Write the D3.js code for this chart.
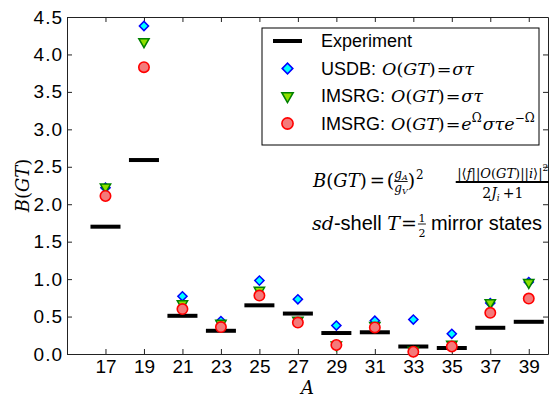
<!DOCTYPE html>
<html>
<head>
<meta charset="utf-8">
<script src="https://cdn.jsdelivr.net/npm/d3@7"></script>
<style>
  body { margin: 0; background: #fff; }
  svg { display: block; }
  text { white-space: pre; }
</style>
</head>
<body>
<svg id="chart" width="549" height="397"></svg>
<script>
// Gamow-Teller strengths of sd-shell T=1/2 mirror transitions
const massNumbers   = [17, 19, 21, 23, 25, 27, 29, 31, 33, 35, 37, 39];
const experiment    = [1.70, 2.59, 0.51, 0.31, 0.65, 0.54, 0.28, 0.29, 0.10, 0.08, 0.35, 0.43];
const usdb          = [2.22, 4.38, 0.77, 0.44, 0.98, 0.73, 0.38, 0.445, 0.46, 0.27, 0.68, 0.96];
const imsrgBare     = [2.23, 4.17, 0.67, 0.41, 0.85, 0.45, 0.12, 0.38, 0.05, 0.13, 0.685, 0.955];
const imsrgEvolved  = [2.11, 3.83, 0.60, 0.36, 0.78, 0.42, 0.12, 0.355, 0.03, 0.10, 0.55, 0.74];
const yTickValues   = [0, 0.5, 1.0, 1.5, 2.0, 2.5, 3.0, 3.5, 4.0, 4.5];
const xDomain = [15, 40];
const yDomain = [0, 4.5];

const plot = { left: 67, right: 548, top: 17, bottom: 354 };
const SANS = "'Liberation Sans', Arial, sans-serif";
const SERIF = "'DejaVu Serif', serif";

const svg = d3.select("#chart");
const x = d3.scaleLinear().domain(xDomain).range([plot.left, plot.right]);
const y = d3.scaleLinear().domain(yDomain).range([plot.bottom, plot.top]);

// ---- axes: inward ticks on all four sides ----
function styleAxis(g) {
  g.select(".domain").attr("stroke", "#222").attr("stroke-width", 1);
  g.selectAll(".tick line").attr("stroke", "#222").attr("stroke-width", 1);
  g.selectAll("text").attr("fill", "#000").style("font-family", SANS).style("font-size", "19px");
}
svg.append("g").attr("transform", `translate(0,${plot.bottom})`)
  .call(d3.axisBottom(x).tickValues(massNumbers).tickFormat(d3.format("d"))
    .tickSizeInner(-5).tickSizeOuter(0).tickPadding(6))
  .call(styleAxis);
svg.append("g").attr("transform", `translate(0,${plot.top})`)
  .call(d3.axisTop(x).tickValues(massNumbers).tickFormat("")
    .tickSizeInner(-5).tickSizeOuter(0))
  .call(styleAxis);
svg.append("g").attr("transform", `translate(${plot.left},0)`)
  .call(d3.axisLeft(y).tickValues(yTickValues).tickFormat(d3.format(".1f"))
    .tickSizeInner(-5).tickSizeOuter(0).tickPadding(4))
  .call(styleAxis)
  .call((g) => g.selectAll("text").style("letter-spacing", "1px"));
svg.append("g").attr("transform", `translate(${plot.right},0)`)
  .call(d3.axisRight(y).tickValues(yTickValues).tickFormat("")
    .tickSizeInner(-5).tickSizeOuter(0))
  .call(styleAxis);

// ---- small math typesetter: rows of text pieces and stacked fractions ----
function row(parent, parts) {
  const g = parent.append("g");
  let cx = 0;
  for (const p of parts) {
    if (p.num) {
      const n = row(g, p.num), d = row(g, p.den);
      const pad = p.pad == null ? 1 : p.pad;
      const w = Math.max(n.w, d.w) + 2 * pad;
      n.g.attr("transform", `translate(${cx + (w - n.w) / 2},${p.up})`);
      d.g.attr("transform", `translate(${cx + (w - d.w) / 2},${p.down})`);
      g.append("line").attr("x1", cx).attr("x2", cx + w)
        .attr("y1", p.bar).attr("y2", p.bar)
        .attr("stroke", "#000").attr("stroke-width", p.lw || 1);
      cx += w + (p.gap || 0);
    } else {
      cx += p.pre || 0;
      const t = g.append("text").attr("x", cx).attr("y", p.dy || 0).text(p.t)
        .attr("fill", "#000")
        .style("font-family", p.f === "s" ? SANS : SERIF)
        .style("font-style", p.f === "i" ? "italic" : "normal")
        .style("font-size", (p.size || 20) + "px");
      cx += t.node().getComputedTextLength() + (p.gap || 0);
    }
  }
  return { g, w: cx };
}
function place(parts, tx, ty) {
  const r = row(svg, parts);
  r.g.attr("transform", `translate(${tx},${ty})`);
  return r;
}

// ---- experiment bars ----
const halfBar = 0.78;
svg.append("g").selectAll("line").data(massNumbers).join("line")
  .attr("x1", (a) => x(a - halfBar)).attr("x2", (a) => x(a + halfBar))
  .attr("y1", (a, i) => y(experiment[i])).attr("y2", (a, i) => y(experiment[i]))
  .attr("stroke", "#000").attr("stroke-width", 4);

// ---- marker series ----
const diamondPath = d3.symbol(d3.symbolSquare, 42)();
const trianglePath = d3.symbol(d3.symbolTriangle, 46)();
const diamondStyle = { fill: "#00ffff", stroke: "#0000ff" };
const triangleStyle = { fill: "#8fe000", stroke: "#008000" };
const circleStyle = { fill: "#f47a7a", stroke: "#ff0000" };
[
  { values: usdb, path: diamondPath, rot: 45, style: diamondStyle },
  { values: imsrgBare, path: trianglePath, rot: 180, style: triangleStyle },
].forEach((s) => {
  svg.append("g").selectAll("path").data(massNumbers).join("path")
    .attr("d", s.path)
    .attr("transform", (a, i) => `translate(${x(a)},${y(s.values[i])}) rotate(${s.rot})`)
    .attr("fill", s.style.fill).attr("stroke", s.style.stroke).attr("stroke-width", 1.5);
});
svg.append("g").selectAll("circle").data(massNumbers).join("circle")
  .attr("cx", (a) => x(a)).attr("cy", (a, i) => y(imsrgEvolved[i])).attr("r", 5.2)
  .attr("fill", circleStyle.fill).attr("stroke", circleStyle.stroke).attr("stroke-width", 1.6);

// ---- legend ----
const legend = { x: 262, y: 28, w: 277, h: 117 };
svg.append("rect").attr("x", legend.x).attr("y", legend.y)
  .attr("width", legend.w).attr("height", legend.h)
  .attr("fill", "#fff").attr("stroke", "#000").attr("stroke-width", 1);
const rowsY = [41, 68.5, 96, 123.5];
const markX = 287.5, textX = 321;
svg.append("line").attr("x1", 273).attr("x2", 302).attr("y1", rowsY[0]).attr("y2", rowsY[0])
  .attr("stroke", "#000").attr("stroke-width", 4);
svg.append("path").attr("d", diamondPath)
  .attr("transform", `translate(${markX},${rowsY[1]}) rotate(45) scale(1.15)`)
  .attr("fill", diamondStyle.fill).attr("stroke", diamondStyle.stroke).attr("stroke-width", 1.4);
svg.append("path").attr("d", trianglePath)
  .attr("transform", `translate(${markX},${rowsY[2]}) rotate(180) scale(1.1)`)
  .attr("fill", triangleStyle.fill).attr("stroke", triangleStyle.stroke).attr("stroke-width", 1.4);
svg.append("circle").attr("cx", markX).attr("cy", rowsY[3]).attr("r", 5.6)
  .attr("fill", circleStyle.fill).attr("stroke", circleStyle.stroke).attr("stroke-width", 1.6);

const LS = 18, LM = 17.5;
const opGT = [
  { t: "O", f: "i", size: LM, pre: 1 },
  { t: "(", f: "r", size: LM },
  { t: "GT", f: "i", size: LM },
  { t: ")", f: "r", size: LM, gap: 1 },
  { t: "=", f: "r", size: LM, gap: 1 },
];
place([{ t: "Experiment", f: "s", size: LS }], textX, rowsY[0] + 6);
place([{ t: "USDB: ", f: "s", size: LS }, ...opGT, { t: "στ", f: "i", size: LM }], textX, rowsY[1] + 6);
place([{ t: "IMSRG: ", f: "s", size: LS }, ...opGT, { t: "στ", f: "i", size: LM }], textX, rowsY[2] + 6);
place([
  { t: "IMSRG: ", f: "s", size: LS }, ...opGT,
  { t: "e", f: "i", size: LM }, { t: "Ω", f: "r", size: 12, dy: -8, gap: 1 },
  { t: "στ", f: "i", size: LM },
  { t: "e", f: "i", size: LM }, { t: "−Ω", f: "r", size: 12, dy: -8 },
], textX, rowsY[3] + 6);

// ---- B(GT) definition ----
const NS = 13;
place([
  { t: "B", f: "i", size: 18 }, { t: "(", f: "r", size: 18 }, { t: "GT", f: "i", size: 18 },
  { t: ")", f: "r", size: 18, gap: 3 },
  { t: "=", f: "r", size: 18, gap: 2 },
  { t: "(", f: "r", size: 19 },
  { num: [{ t: "g", f: "i", size: 12 }, { t: "A", f: "i", size: 8, dy: 2 }],
    den: [{ t: "g", f: "i", size: 12 }, { t: "V", f: "i", size: 8, dy: 2 }],
    up: -9, down: 5, bar: -5.5, lw: 0.9, pad: 0 },
  { t: ")", f: "r", size: 19, gap: 1 },
  { t: "2", f: "r", size: 12, dy: -8, gap: 32 },
  { num: [
      { t: "|⟨", f: "r", size: NS }, { t: "f", f: "i", size: NS }, { t: "||", f: "r", size: NS },
      { t: "O", f: "i", size: NS }, { t: "(", f: "r", size: NS }, { t: "GT", f: "i", size: NS },
      { t: ")", f: "r", size: NS }, { t: "||", f: "r", size: NS }, { t: "i", f: "i", size: NS },
      { t: "⟩|", f: "r", size: NS }, { t: "2", f: "r", size: 9, dy: -7 } ],
    den: [
      { t: "2", f: "r", size: 14 }, { t: "J", f: "i", size: 14 }, { t: "i", f: "i", size: 9, dy: 3, gap: 3 },
      { t: "+1", f: "r", size: 14 } ],
    up: -9, down: 11, bar: -5, lw: 2, pad: 1.5 },
], 313, 187);

// ---- model space note ----
place([
  { t: "sd", f: "i", size: 19 }, { t: "-shell ", f: "s", size: 20 },
  { t: "T", f: "i", size: 19, gap: 1 }, { t: "=", f: "r", size: 19, gap: 1 },
  { num: [{ t: "1", f: "r", size: 11 }], den: [{ t: "2", f: "r", size: 11 }],
    up: -8, down: 7, bar: -6, lw: 0.9, pad: 0.5, gap: 5 },
  { t: "mirror states", f: "s", size: 20 },
], 312, 230);

// ---- axis titles ----
svg.append("text").attr("x", (plot.left + plot.right) / 2).attr("y", 394)
  .attr("text-anchor", "middle").text("A")
  .style("font-family", SERIF).style("font-style", "italic").style("font-size", "18px");
const yl = row(svg, [
  { t: "B", f: "i", size: 18 }, { t: "(", f: "r", size: 18 },
  { t: "GT", f: "i", size: 18 }, { t: ")", f: "r", size: 18 },
]);
yl.g.attr("transform", `translate(29,${(plot.top + plot.bottom) / 2 + yl.w / 2}) rotate(-90)`);
</script>
</body>
</html>
